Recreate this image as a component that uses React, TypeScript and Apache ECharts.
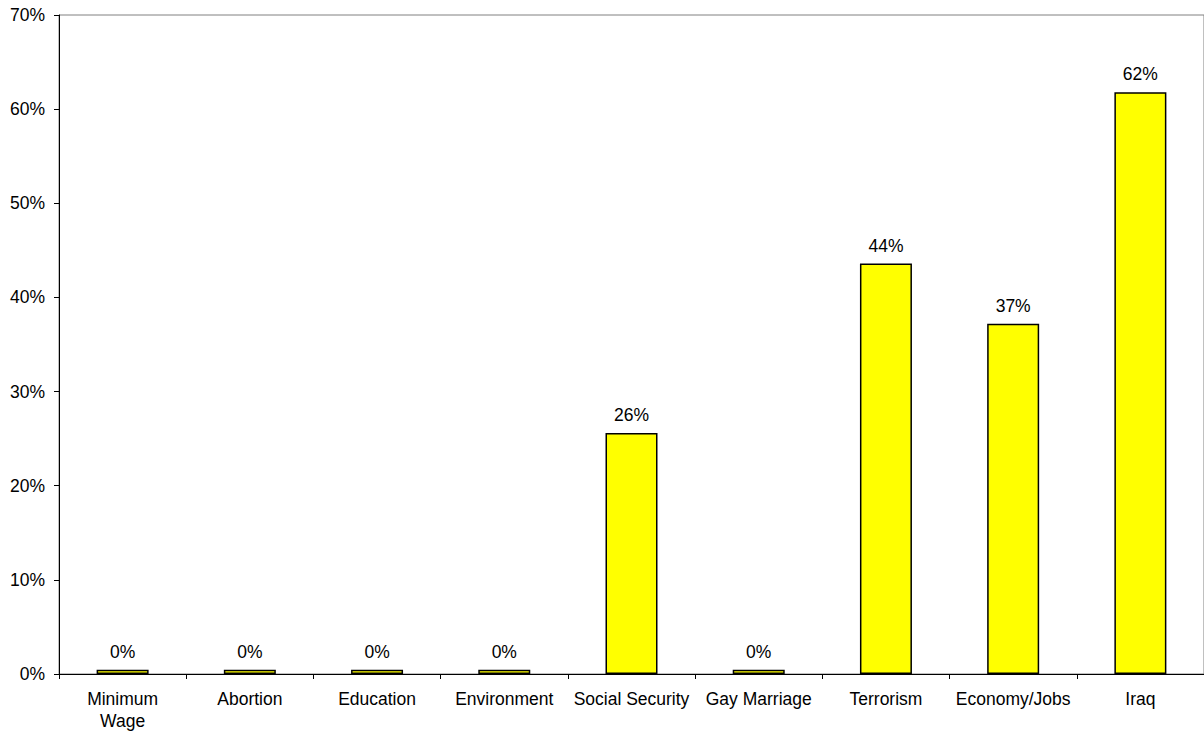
import React, { useEffect, useRef } from "react";
import * as echarts from "echarts";

const categories = [
  "Minimum\nWage",
  "Abortion",
  "Education",
  "Environment",
  "Social Security",
  "Gay Marriage",
  "Terrorism",
  "Economy/Jobs",
  "Iraq",
];
const values = [0.45, 0.45, 0.45, 0.45, 25.6, 0.45, 43.6, 37.2, 61.8];
const yTicks = { min: 0, max: 70, interval: 10 };

const FONT = "'Liberation Sans', Arial, sans-serif";

export default function App() {
  const ref = useRef<HTMLDivElement>(null);
  useEffect(() => {
    document.body.style.margin = "0";
    document.body.style.overflow = "hidden";
    const chart = echarts.init(ref.current!, null, { renderer: "svg" });
    chart.setOption({
      animation: false,
      backgroundColor: "#ffffff",
      grid: {
        left: 59,
        top: 15,
        bottom: 58,
        width: 1152,
        show: true,
        borderColor: "#808080",
        borderWidth: 1,
        backgroundColor: "transparent",
      },
      xAxis: {
        type: "category",
        data: categories,
        boundaryGap: true,
        axisLine: { show: true, lineStyle: { color: "#000", width: 1 } },
        axisTick: { show: true, length: 5, lineStyle: { color: "#000" } },
        axisLabel: {
          color: "#000",
          fontFamily: FONT,
          fontSize: 17.5,
          lineHeight: 22,
          margin: 14,
          interval: 0,
        },
      },
      yAxis: {
        type: "value",
        min: yTicks.min,
        max: yTicks.max,
        interval: yTicks.interval,
        axisLine: { show: true, lineStyle: { color: "#000", width: 1 } },
        axisTick: { show: true, length: 5, lineStyle: { color: "#000" } },
        splitLine: { show: false },
        axisLabel: {
          color: "#000",
          fontFamily: FONT,
          fontSize: 17.5,
          margin: 14,
          formatter: "{value}%",
        },
      },
      series: [
        {
          type: "bar",
          data: values,
          barWidth: 52,
          itemStyle: { color: "#FFFF00", borderColor: "#000", borderWidth: 1.5 },
          label: {
            show: true,
            position: "top",
            distance: 9,
            color: "#000",
            fontFamily: FONT,
            fontSize: 17.5,
            formatter: (p: any) => Math.round(p.value) + "%",
          },
        },
      ],
    });
    return () => chart.dispose();
  }, []);
  return <div ref={ref} style={{ width: 1204, height: 732 }} />;
}
